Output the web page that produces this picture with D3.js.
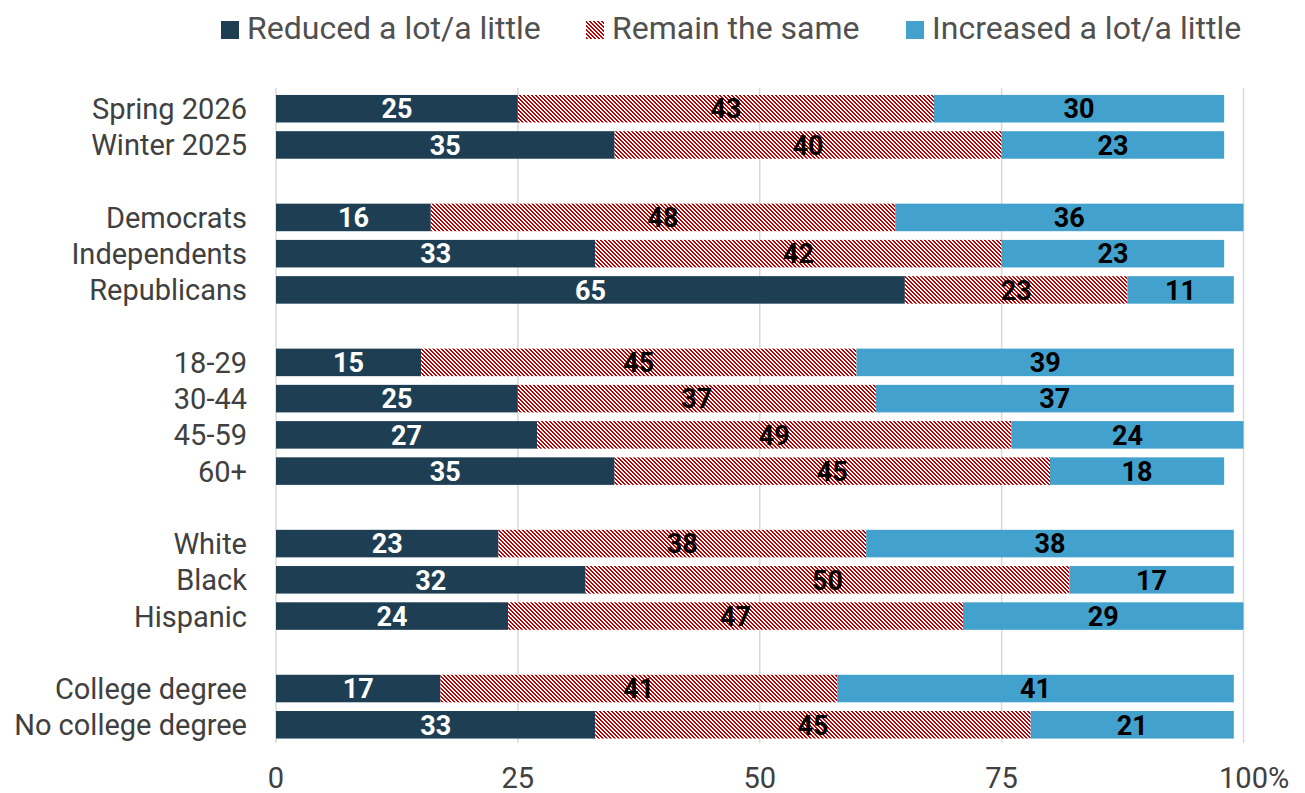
<!DOCTYPE html>
<html>
<head>
<meta charset="utf-8">
<script src="https://cdn.jsdelivr.net/npm/d3@7/dist/d3.min.js"></script>
<style>
  html, body { margin: 0; padding: 0; background: #fff; }
  svg { display: block; font-family: Roboto, "Noto Sans", sans-serif; }
</style>
</head>
<body>
<svg id="chart" width="1305" height="793"></svg>
<script>
// Survey categories, top to bottom
const categories = [
  "Spring 2026", "Winter 2025",
  "Democrats", "Independents", "Republicans",
  "18-29", "30-44", "45-59", "60+",
  "White", "Black", "Hispanic",
  "College degree", "No college degree"
];
// A blank row follows each of these categories
const groupEnds = ["Winter 2025", "Republicans", "60+", "Hispanic"];

// Shares (%) per response
const reduced   = [25, 35, 16, 33, 65, 15, 25, 27, 35, 23, 32, 24, 17, 33];
const same      = [43, 40, 48, 42, 23, 45, 37, 49, 45, 38, 50, 47, 41, 45];
const increased = [30, 23, 36, 23, 11, 39, 37, 24, 18, 38, 17, 29, 41, 21];

const seriesNames = ["Reduced a lot/a little", "Remain the same", "Increased a lot/a little"];
const tickValues = [0, 25, 50, 75, 100];
const tickLabels = ["0", "25", "50", "75", "100"];
const lastTickSuffix = "%";

const navy = "#1e3e54", blue = "#43a2cd", red = "#c00000";

const svg = d3.select("#chart");

// Diagonal hatch used for "Remain the same"
const defs = svg.append("defs");
const pat = defs.append("pattern")
  .attr("id", "hatch")
  .attr("patternUnits", "userSpaceOnUse")
  .attr("width", 4).attr("height", 4);
pat.append("rect").attr("width", 4).attr("height", 4).attr("fill", "#fff");
for (let r = 0; r < 4; r++) {
  // two-pixel run stepping right by one pixel each row: "\" strokes
  [r, r + 1].forEach(c => {
    pat.append("rect")
      .attr("x", c % 4).attr("y", r)
      .attr("width", 1).attr("height", 1)
      .attr("fill", red)
      .attr("shape-rendering", "crispEdges");
  });
}

// Row domain with spacer slots between groups
const rows = [];
categories.forEach(c => {
  rows.push(c);
  if (groupEnds.includes(c)) rows.push("__gap_" + c);
});

const x = d3.scaleLinear().domain([0, 100]).range([276, 1243.5]);
const y = d3.scaleBand().domain(rows).range([90.6, 742.9])
  .paddingInner(0.24).paddingOuter(0.12);

// Gridlines and zero line
svg.append("g").selectAll("line")
  .data(tickValues)
  .join("line")
  .attr("x1", d => x(d)).attr("x2", d => x(d))
  .attr("y1", 88).attr("y2", 743)
  .attr("stroke", "#d9d9d9").attr("stroke-width", 1.5);

// Stacked bars
const rowsData = categories.map((c, i) => ({ cat: c, vals: [reduced[i], same[i], increased[i]] }));
const fills = [navy, "url(#hatch)", blue];
const labelColors = ["#fff", "#000", "#000"];

const barG = svg.append("g");
rowsData.forEach(row => {
  let acc = 0;
  row.vals.forEach((v, k) => {
    const x0 = acc, x1 = acc + v;
    acc = x1;
    barG.append("rect")
      .attr("x", x(x0)).attr("y", y(row.cat))
      .attr("width", x(x1) - x(x0)).attr("height", y.bandwidth())
      .attr("fill", fills[k]);
    barG.append("text")
      .attr("x", (x(x0) + x(x1)) / 2)
      .attr("y", y(row.cat) + y.bandwidth() / 2)
      .attr("dy", "0.36em")
      .attr("text-anchor", "middle")
      .attr("font-size", 27).attr("font-weight", "bold")
      .attr("fill", labelColors[k])
      .text(v);
  });
});

// Category labels
svg.append("g").selectAll("text")
  .data(categories)
  .join("text")
  .attr("x", 247)
  .attr("y", d => y(d) + y.bandwidth() / 2)
  .attr("dy", "0.36em")
  .attr("text-anchor", "end")
  .attr("font-size", 29)
  .attr("fill", "#404040")
  .text(d => d);

// X tick labels: number centred on its gridline, "%" trailing the last one
const tickG = svg.append("g");
tickValues.forEach((d, i) => {
  const t = tickG.append("text")
    .attr("y", 788)
    .attr("font-size", 29)
    .attr("fill", "#404040")
    .text(tickLabels[i]);
  const w = t.node().getComputedTextLength();
  t.attr("x", x(d) - w / 2);
  if (i === tickValues.length - 1) t.append("tspan").text(lastTickSuffix);
});

// Legend
const legendX = [221, 586, 906];
const legend = svg.append("g");
seriesNames.forEach((name, k) => {
  legend.append("rect")
    .attr("x", legendX[k]).attr("y", 21)
    .attr("width", 18).attr("height", 18)
    .attr("fill", fills[k]);
  legend.append("text")
    .attr("x", legendX[k] + 26).attr("y", 39)
    .attr("font-size", 32)
    .attr("fill", "#505050")
    .text(name);
});
</script>
</body>
</html>
